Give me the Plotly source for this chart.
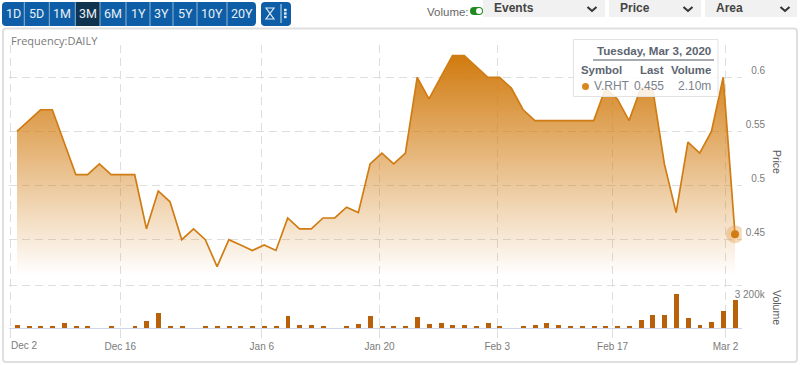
import plotly.graph_objects as go

W, H = 800, 365

prices = [0.55, 0.56, 0.57, 0.57, 0.54, 0.51, 0.51, 0.52, 0.51, 0.51, 0.51, 0.46, 0.495, 0.485, 0.45, 0.46,
          0.45, 0.425, 0.45, 0.445, 0.44, 0.445, 0.44, 0.47, 0.46, 0.46, 0.47, 0.47, 0.48, 0.475, 0.52, 0.53,
          0.52, 0.53, 0.60, 0.58, 0.60, 0.62, 0.62, 0.61, 0.60, 0.60, 0.59, 0.57, 0.56, 0.56, 0.56, 0.56,
          0.56, 0.56, 0.59, 0.58, 0.56, 0.59, 0.59, 0.52, 0.475, 0.54, 0.53, 0.55, 0.60, 0.455]
volumes = [200, 75, 75, 125, 370, 125, 125, 0, 75, 0, 75, 500, 1120, 125, 175, 0,
           75, 125, 125, 75, 125, 75, 75, 870, 250, 250, 125, 0, 125, 320, 870, 125,
           125, 175, 820, 300, 370, 250, 250, 125, 370, 75, 0, 150, 250, 370, 200, 125,
           75, 75, 125, 75, 75, 570, 940, 940, 2550, 740, 250, 450, 1240, 2100]
x_index = list(range(len(prices)))

date_tick_positions = [-0.535, 8.78, 20.8, 30.8, 40.8, 50.6, 60.2]
date_tick_labels = ["", "Dec 16", "Jan 6", "Jan 20", "Feb 3", "Feb 17", "Mar 2"]
first_date_label = "Dec 2"
price_ticks = [0.45, 0.5, 0.55, 0.6]
price_tick_labels = ["0.45", "\u00a0\u00a00.5", "0.55", "\u00a0\u00a00.6"]
range_buttons = ["1D", "5D", "1M", "3M", "6M", "1Y", "3Y", "5Y", "10Y", "20Y"]
button_edges = [2, 24.3, 49.3, 75.3, 100, 126, 150, 173, 197, 227, 256]

ORANGE = "#d07c12"
BAR = "#b9600a"
GRID = "#dedede"
TXT = "#7b7b7b"
FONT = "Liberation Sans"


def px(x):
    return x / W


def py(y):
    return 1 - y / H


def round_rect(x0, y0, x1, y1, r):
    return (f"M{px(x0 + r)},{py(y0)} L{px(x1 - r)},{py(y0)} Q{px(x1)},{py(y0)} {px(x1)},{py(y0 + r)} "
            f"L{px(x1)},{py(y1 - r)} Q{px(x1)},{py(y1)} {px(x1 - r)},{py(y1)} L{px(x0 + r)},{py(y1)} "
            f"Q{px(x0)},{py(y1)} {px(x0)},{py(y1 - r)} L{px(x0)},{py(y0 + r)} Q{px(x0)},{py(y0)} {px(x0 + r)},{py(y0)} Z")


shapes, annots = [], []


def shape_path(path, fill="rgba(0,0,0,0)", line=None, lw=1):
    shapes.append(dict(type="path", xref="paper", yref="paper", path=path, fillcolor=fill,
                       line=dict(color=line or "rgba(0,0,0,0)", width=lw if line else 0), layer="above"))


def rect(x0, y0, x1, y1, fill, line=None, lw=1):
    shapes.append(dict(type="rect", xref="paper", yref="paper", x0=px(x0), x1=px(x1), y0=py(y0), y1=py(y1),
                       fillcolor=fill, line=dict(color=line or "rgba(0,0,0,0)", width=lw if line else 0), layer="above"))


def seg(x0, y0, x1, y1, color, lw=1):
    shapes.append(dict(type="line", xref="paper", yref="paper", x0=px(x0), x1=px(x1), y0=py(y0), y1=py(y1),
                       line=dict(color=color, width=lw), layer="above"))


def label(x, y, text, size=12, color=TXT, anchor="left", bold=False, font=FONT, angle=0):
    annots.append(dict(xref="paper", yref="paper", x=px(x), y=py(y), text=f"<b>{text}</b>" if bold else text,
                       showarrow=False, xanchor=anchor, yanchor="middle", textangle=angle,
                       font=dict(size=size, color=color, family=font), borderpad=0, borderwidth=0))


# chart frame
shapes.append(dict(type="path", xref="paper", yref="paper", path=round_rect(3, 28.5, 797, 362, 3),
                   line=dict(color="#dfdfdf", width=2), fillcolor="rgba(0,0,0,0)", layer="below"))

# range buttons
shape_path(round_rect(2, 2, 256, 26, 4), fill="#0d5ea6")
shapes.append(dict(type="rect", xref="paper", yref="paper", x0=px(button_edges[3]), x1=px(button_edges[4]),
                   y0=py(2), y1=py(26), fillcolor="#10344f", line=dict(width=0), layer="above"))
for edge in button_edges[1:-1]:
    seg(edge, 2, edge, 26, "#8db4d6", 1)
for i, name in enumerate(range_buttons):
    label((button_edges[i] + button_edges[i + 1]) / 2, 14, name, size=12.5,
          color="#e8eef5", anchor="center", font="Roboto")

# tools block
shape_path(round_rect(261, 2, 291, 26, 4), fill="#0d5ea6")
shape_path(f"M{px(266)},{py(8)} L{px(274)},{py(8)} L{px(266)},{py(19)} L{px(274)},{py(19)} Z",
           line="#dfe9f3", lw=1.2)
seg(281, 4, 281, 23, "#cfe0ef", 1)
for yy in (10, 13.5, 17):
    rect(284, yy - 1.2, 286.6, yy + 1.2, "#e8eef5")

# top right controls
label(427, 11.5, "Volume:", size=11.5, color="#666666")
shape_path(round_rect(470, 7, 483, 15, 4), fill="#1f8a1f")
shapes.append(dict(type="circle", xref="paper", yref="paper", x0=px(476), x1=px(482), y0=py(8), y1=py(14),
                   fillcolor="white", line=dict(width=0), layer="above"))
for x0, x1, name, tx, cx in [(483, 605, "Events", 494, 592), (609, 701, "Price", 620, 688), (705, 797, "Area", 716, 785)]:
    rect(x0, 0, x1, 17, "#f1f1f1")
    label(tx, 8.5, name, size=12, color="#444444", bold=True)
    shape_path(f"M{px(cx - 4.5)},{py(7)} L{px(cx)},{py(11)} L{px(cx + 4.5)},{py(7)}", line="#333333", lw=2)

label(11, 41, "Frequency:DAILY", size=11, color="#7a7a7a", font="Open Sans")
label(777, 162, "Price", size=10.5, color="#555555", anchor="center", angle=90)
label(777, 307, "Volume", size=10.5, color="#555555", anchor="center", angle=90)
label(24, 345, first_date_label, size=10, color=TXT, anchor="center")

# tooltip
rect(573.5, 39.5, 718, 96.5, "rgba(255,255,255,0.86)", line="#e2e2e2")
seg(593, 60, 714, 60, "#8a8f96", 1.3)
TT = "#5c6570"
label(711, 51, "Tuesday, Mar 3, 2020", size=11.6, color=TT, anchor="right", bold=True)
label(581, 70, "Symbol", size=11.4, color=TT, bold=True)
label(664, 70, "Last", size=11.4, color=TT, anchor="right", bold=True)
label(711, 70, "Volume", size=11.4, color=TT, anchor="right", bold=True)
shapes.append(dict(type="circle", xref="paper", yref="paper", x0=px(582), x1=px(589), y0=py(83), y1=py(90),
                   fillcolor="#d9861f", line=dict(width=0), layer="above"))
label(594, 86, "V.RHT", size=12, color="#7a828c")
label(664, 86, "0.455", size=12, color="#7a828c", anchor="right")
label(711, 86, "2.10m", size=12, color="#7a828c", anchor="right")

fig = go.Figure()
fig.add_trace(go.Scatter(
    x=x_index, y=prices, mode="lines", yaxis="y", line=dict(color=ORANGE, width=1.7),
    fill="tozeroy",
    fillgradient=dict(type="vertical", start=0.62, stop=0.417,
                      colorscale=[[0, "rgba(209,123,15,1)"], [1, "rgba(209,123,15,0)"]]),
    hoverinfo="skip", showlegend=False))
fig.add_trace(go.Scatter(
    x=x_index[-1:], y=prices[-1:], mode="markers", yaxis="y",
    marker=dict(size=18, color="rgba(232,160,80,0.4)", line=dict(width=0)),
    hoverinfo="skip", showlegend=False))
fig.add_trace(go.Scatter(
    x=x_index[-1:], y=prices[-1:], mode="markers", yaxis="y",
    marker=dict(size=8, color=ORANGE, line=dict(width=0)),
    hoverinfo="skip", showlegend=False))
fig.add_trace(go.Bar(x=x_index, y=volumes, yaxis="y2", width=0.42, marker=dict(color=BAR, line=dict(width=0)),
                     hoverinfo="skip", showlegend=False))

DASH = "8px,5px"
fig.update_layout(
    width=W, height=H, autosize=False, margin=dict(l=0, r=0, t=0, b=0),
    paper_bgcolor="white", plot_bgcolor="white", bargap=0,
    font=dict(family=FONT, size=10, color=TXT),
    shapes=shapes, annotations=annots,
    xaxis=dict(domain=[px(8.7), px(741.7)], range=[-0.705, 61.57], tickmode="array",
               tickvals=date_tick_positions, ticktext=date_tick_labels, showgrid=True, gridcolor=GRID,
               griddash=DASH, gridwidth=1, zeroline=False, showline=True, linecolor="#cdd6ea", linewidth=1,
               ticks="outside", ticklen=9, tickcolor=GRID, tickwidth=1, tickangle=0,
               tickfont=dict(size=10, color=TXT, family=FONT), anchor="y"),
    yaxis=dict(domain=[py(328), py(45)], range=[0.36834, 0.62985], side="right", anchor="x", tickmode="array",
               tickvals=price_ticks, ticktext=price_tick_labels, showgrid=True, gridcolor=GRID, griddash=DASH,
               zeroline=False, showline=False, ticks="", ticklabelstandoff=3, ticklabelshift=-7,
               tickfont=dict(size=10, color=TXT, family=FONT)),
    yaxis2=dict(domain=[py(328), py(45)], range=[0, 21060], overlaying="y", side="right", anchor="x", tickmode="array",
                tickvals=[3200], ticktext=["3 200k"], showgrid=True, gridcolor=GRID, griddash=DASH,
                zeroline=False, showline=False, ticks="", ticklabelstandoff=-8, ticklabelshift=9,
                tickfont=dict(size=10, color=TXT, family=FONT)),
)
fig.write_html("out.html", config=dict(displayModeBar=False),
               post_script="document.body.style.margin='0';document.body.style.overflow='hidden';")
